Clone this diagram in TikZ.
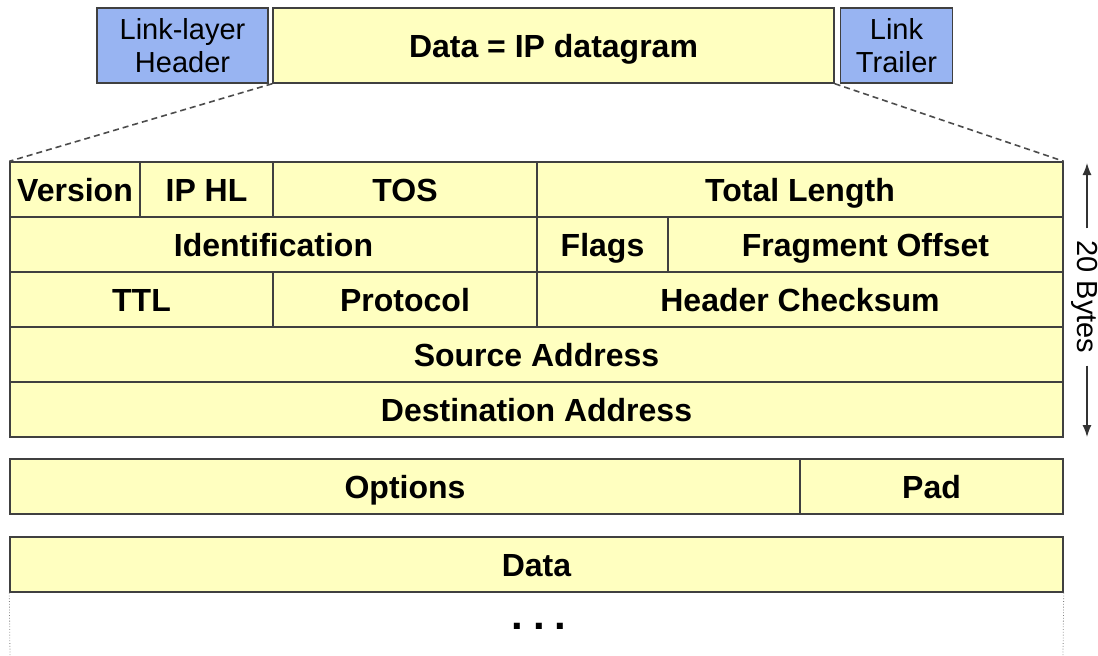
\documentclass[tikz,border=0pt]{standalone}
\usepackage{fontspec}
\setmainfont{Liberation Sans}
\usetikzlibrary{arrows.meta,positioning}

\definecolor{pktyellow}{RGB}{255,255,192}
\definecolor{pktblue}{RGB}{152,180,242}

\begin{document}
\begin{tikzpicture}[x=1pt,y=-1pt,
    field/.style={draw=black!75,line width=1.4pt,fill=pktyellow,inner sep=0pt,
      text height=23pt,text depth=0pt,font=\bfseries\fontsize{32}{36}\selectfont},
    linkbox/.style={draw=black!75,line width=1.4pt,fill=pktblue,inner sep=0pt,
      align=center,font=\fontsize{29}{33}\selectfont},
    zoomline/.style={dash pattern=on 6pt off 4pt,black!70,line width=1.6pt}]
    \useasboundingbox (0,0) rectangle (1098,656);

    % link-layer frame
    \node[linkbox,minimum width=171pt,minimum height=75pt] (llhdr) at (182.5,45.5) {Link-layer\\Header};
    \node[field,minimum width=561pt,minimum height=75pt] (dgram) at (553.5,45.5) {Data = IP datagram};
    \node[linkbox,minimum width=112pt,minimum height=75pt] (lltrl) at (896.5,45.5) {Link\\Trailer};

    % header fields: name/left/right/top/bottom/text
    \foreach \id/\l/\r/\t/\b/\txt in {
        version/10/140/162/217/Version, iphl/140/273/162/217/IP HL,
        tos/273/537/162/217/TOS, totlen/537/1063/162/217/Total Length,
        ident/10/537/217/272/Identification, flags/537/668/217/272/Flags,
        fragoff/668/1063/217/272/Fragment Offset,
        ttl/10/273/272/327/TTL, proto/273/537/272/327/Protocol,
        chksum/537/1063/272/327/Header Checksum,
        srcaddr/10/1063/327/382/Source Address,
        dstaddr/10/1063/382/437/Destination Address,
        options/10/800/459/514/Options, pad/800/1063/459/514/Pad,
        payload/10/1063/537/592/Data}
    \node[field,minimum width={(\r-\l)*1pt},minimum height={(\b-\t)*1pt}]
        (\id) at ({(\l+\r)/2},{(\t+\b)/2}) {\txt};

    % zoom lines
    \draw[zoomline] (dgram.south west) -- (version.north west);
    \draw[zoomline] (dgram.south east) -- (totlen.north east);

    % data goes on
    \coordinate (contl) at (10,656);
    \coordinate (contr) at (1063,656);
    \draw[dotted,gray,line width=0.8pt] (payload.south west) -- (contl);
    \draw[dotted,gray,line width=0.8pt] (payload.south east) -- (contr);
    \node[anchor=base,font=\bfseries\fontsize{42}{42}\selectfont] (more) at (539,629) {.\hspace{10pt}.\hspace{10pt}.};

    % header size
    \node[rotate=-90,inner sep=12pt,text height=20pt,text depth=0pt,
        font=\fontsize{29}{33}\selectfont] (bytes) at (1087,297) {20 Bytes};
    \coordinate (btop) at (1087,163);
    \coordinate (bbot) at (1087,437);
    \draw[-{Latex[length=12pt,width=9pt]},black!80,line width=1.3pt] (bytes) -- (btop);
    \draw[-{Latex[length=12pt,width=9pt]},black!80,line width=1.3pt] (bytes) -- (bbot);

\end{tikzpicture}
\end{document}
